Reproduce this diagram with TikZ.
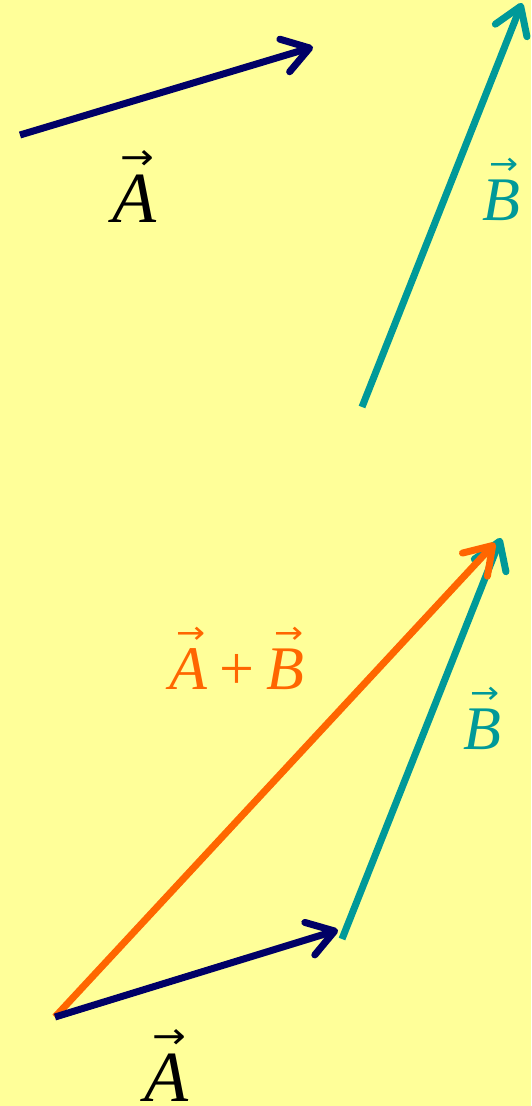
\documentclass[tikz,border=0pt]{standalone}
\usepackage{fontspec}
\setmainfont{Liberation Serif}
\newfontfamily\arrowfont{DejaVu Sans}
\usetikzlibrary{arrows.meta}
\definecolor{bg}{HTML}{FFFF99}
\definecolor{navy}{HTML}{000066}
\definecolor{teal}{HTML}{009999}
\definecolor{orng}{HTML}{FF6600}
\newcommand{\vecl}[1]{\setbox0\hbox{\itshape #1}\rlap{\hbox to\wd0{\hfil\kern0.1em\raisebox{0.73em}{\scalebox{0.56}[0.5]{\arrowfont →}}\hfil}}\box0}
\begin{document}
\begin{tikzpicture}[x=1pt,y=-1pt,
  vecline/.style={line width=7pt, -{Straight Barb[length=26pt,width=34pt,round]}},
  lab/.style={inner sep=0pt, anchor=base},
  big/.style={font=\fontsize{72}{80}\selectfont},
  mid/.style={font=\fontsize{62}{70}\selectfont}]
\fill[bg] (0,0) rectangle (531,1106);
\useasboundingbox (0,0) rectangle (531,1106);
% top
\coordinate (a0) at (20,135);
\coordinate (a1) at (313,47);
\coordinate (b0) at (362,407);
\coordinate (b1) at (522,3);
\draw[vecline, navy] (a0) -- (a1);
\draw[vecline, teal] (b0) -- (b1);
\node[lab, big] (la) at (134,222) {\vecl{A}};
\node[lab, mid, teal] (lb) at (501,220) {\vecl{B}};
% bottom
\coordinate (o) at (55,1017);
\coordinate (p) at (338,930);
\coordinate (q0) at (342,939);
\coordinate (q1) at (501,538);
\coordinate (r) at (495,543);
\draw[vecline, teal] (q0) -- (q1);
\draw[vecline, orng] (o) -- (r);
\draw[vecline, navy] (o) -- (p);
\node[lab, mid, orng] (lab2) at (237,689) {\vecl{A}\hspace{0.2em}+\hspace{0.2em}\vecl{B}};
\node[lab, mid, teal] (lb2) at (482,749) {\vecl{B}};
\node[lab, big] (la2) at (166,1101) {\vecl{A}};
\end{tikzpicture}
\end{document}
